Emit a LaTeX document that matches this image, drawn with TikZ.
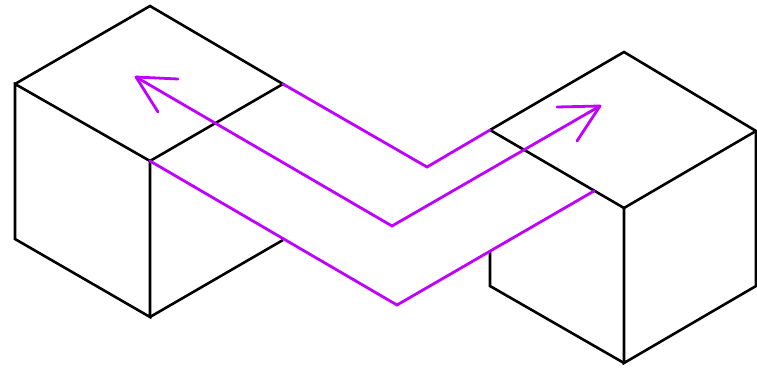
\documentclass[tikz,border=0pt]{standalone}
\definecolor{vio}{RGB}{191,0,255}
\tikzset{
  edge/.style={draw=black,line width=2.6pt,line join=miter},
  path3/.style={draw=vio,line width=2.8pt,line cap=round,line join=miter},
  barb/.style={draw=vio,line width=2.8pt,line cap=round,line join=round}
}
\begin{document}
\begin{tikzpicture}[x=1pt,y=-1pt]
\useasboundingbox (0,0) rectangle (757,367);
% left cube
\coordinate (LT) at (150,6);
\coordinate (LL) at (15,84);
\coordinate (LF) at (150,161);
\coordinate (LR) at (283,84);
\coordinate (LLB) at (15,239);
\coordinate (LFB) at (150,317);
\coordinate (LRB) at (283,240);
% right cube
\coordinate (RT) at (624,52);
\coordinate (RL) at (490,130);
\coordinate (RF) at (624,208);
\coordinate (RR) at (756,131);
\coordinate (RLB) at (490,286);
\coordinate (RFB) at (624,363);
\coordinate (RRB) at (756,286);
\coordinate (RLcut) at (490,251);
% purple bends
\coordinate (P1) at (427,167);
\coordinate (P2) at (397,305);
\coordinate (P2e) at (594,191);
\coordinate (A1) at (136,77);
\coordinate (P3) at (392,226);
\coordinate (A2) at (600,106);

% black edges
\draw[edge] (LL) -- (LT) -- (LR) -- (LF) -- (LL) -- (LLB) -- (LFB) -- (LF);
\draw[edge] (LFB) -- (LRB);
\draw[edge] (RL) -- (RT) -- (RR) -- (RF) -- (RL);
\draw[edge] (RF) -- (RFB) -- (RRB) -- (RR);
\draw[edge] (RLcut) -- (RLB) -- (RFB);

% purple paths
\draw[path3] (LR) -- (P1) -- (RL);
\draw[path3] (LF) -- (P2) -- (P2e);
\draw[path3] (A1) -- (P3) -- (A2);
\draw[barb] (178,79) -- (A1) -- (158,112);
\draw[barb] (557,107) -- (A2) -- (577,141);
\end{tikzpicture}
\end{document}
